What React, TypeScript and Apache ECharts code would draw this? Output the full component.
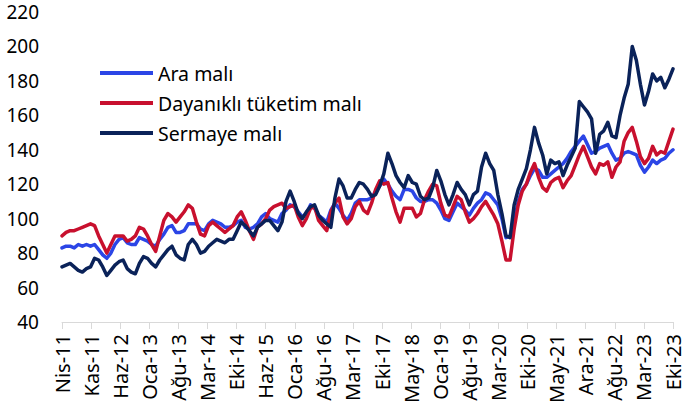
import React, { useEffect, useRef } from "react";
import * as echarts from "echarts";

const tickLabels = [
  "Nis-11", "Kas-11", "Haz-12", "Oca-13", "Ağu-13", "Mar-14", "Eki-14", "Haz-15",
  "Oca-16", "Ağu-16", "Mar-17", "Eki-17", "May-18", "Oca-19", "Ağu-19", "Mar-20",
  "Eki-20", "May-21", "Ara-21", "Ağu-22", "Mar-23", "Eki-23",
];

// Monthly values, Apr 2011 .. Oct 2023 (151 months)
const araMali = [
  83, 84, 84, 83, 85, 84, 85, 84, 85, 82, 79, 77, 80, 85, 88, 89, 86, 85, 85, 89,
  88, 87, 85, 84, 88, 91, 95, 96, 92, 92, 93, 97, 97, 97, 94, 93, 97, 99, 98, 97,
  95, 95, 96, 98, 99, 95, 94, 95, 97, 101, 103, 100, 99, 98, 103, 105, 108, 107, 104, 101,
  103, 108, 106, 102, 100, 98, 105, 109, 106, 102, 99, 103, 109, 111, 111, 111, 112, 116, 119, 123,
  120, 116, 113, 111, 117, 117, 116, 112, 110, 110, 111, 111, 109, 105, 100, 99, 104, 109, 107, 105,
  102, 106, 109, 111, 115, 114, 111, 108, 100, 89, 90, 98, 110, 117, 120, 125, 129, 128, 124, 124,
  126, 128, 130, 132, 135, 139, 142, 145, 148, 143, 138, 139, 141, 142, 143, 138, 134, 135, 138, 139,
  138, 137, 131, 127, 130, 134, 132, 134, 135, 138, 140,
];

const dayanikliTuketim = [
  90, 92, 93, 93, 94, 95, 96, 97, 96, 90, 85, 80, 85, 90, 90, 90, 87, 88, 90, 95,
  94, 90, 85, 81, 90, 99, 103, 101, 98, 101, 104, 108, 106, 98, 91, 90, 96, 98, 96, 94,
  92, 94, 96, 101, 104, 99, 93, 88, 95, 97, 100, 105, 107, 108, 109, 106, 107, 108, 101, 96,
  100, 106, 107, 99, 96, 93, 104, 109, 112, 101, 97, 100, 107, 110, 105, 103, 109, 117, 122, 120,
  121, 112, 104, 98, 106, 106, 106, 101, 103, 111, 116, 120, 119, 109, 102, 101, 107, 113, 111, 104,
  98, 100, 103, 107, 110, 106, 102, 97, 87, 76, 76, 94, 108, 116, 120, 127, 132, 124, 118, 116,
  121, 123, 124, 118, 122, 125, 131, 137, 142, 136, 130, 126, 132, 131, 133, 124, 130, 133, 145, 150,
  153, 145, 136, 132, 135, 142, 137, 139, 138, 145, 152,
];

const sermayeMali = [
  72, 73, 74, 72, 70, 69, 71, 72, 77, 76, 72, 67, 70, 73, 75, 76, 71, 69, 68, 74,
  78, 77, 74, 72, 76, 79, 82, 84, 79, 77, 76, 85, 88, 85, 80, 81, 84, 86, 88, 87,
  86, 88, 88, 93, 98, 96, 93, 90, 95, 97, 99, 99, 96, 93, 98, 110, 116, 110, 103, 100,
  104, 107, 108, 102, 99, 97, 95, 112, 123, 119, 112, 112, 117, 121, 120, 117, 113, 114, 119, 126,
  138, 132, 125, 121, 118, 125, 121, 120, 113, 111, 112, 118, 128, 122, 114, 108, 114, 121, 117, 114,
  108, 114, 116, 130, 138, 132, 128, 114, 103, 90, 89, 108, 117, 123, 129, 140, 153, 144, 137, 126,
  134, 132, 133, 125, 131, 136, 141, 168, 165, 162, 158, 138, 149, 151, 156, 148, 147, 160, 170, 178,
  200, 192, 178, 166, 174, 184, 180, 182, 176, 181, 187,
];

const seriesNames = ["Ara malı", "Dayanıklı tüketim malı", "Sermaye malı"];
const seriesColors = ["#2B45E6", "#C8102E", "#0A2259"];

const FONT = "'Noto Sans', 'Open Sans', sans-serif";
const TICK_COUNT = tickLabels.length - 1; // 21 intervals

function toPoints(values: number[]) {
  const n = values.length - 1;
  return values.map((v, i) => [(i * TICK_COUNT) / n, v]);
}

export default function App() {
  const ref = useRef<HTMLDivElement>(null);

  useEffect(() => {
    if (!ref.current) return;
    const chart = echarts.init(ref.current, undefined, { renderer: "svg" });
    const data = [araMali, dayanikliTuketim, sermayeMali];
    chart.setOption({
      animation: false,
      backgroundColor: "#ffffff",
      grid: { left: 62, right: 10, top: 12, bottom: 93, containLabel: false },
      legend: {
        orient: "vertical",
        left: 100,
        top: 63,
        padding: 0,
        itemGap: 10,
        itemWidth: 53,
        itemHeight: 4,
        icon: "rect",
        data: seriesNames,
        textStyle: { fontFamily: FONT, fontSize: 19.5, color: "#000", lineHeight: 20 },
      },
      xAxis: {
        type: "value",
        min: 0,
        max: TICK_COUNT,
        interval: 1,
        splitLine: { show: false },
        axisLine: { show: true, lineStyle: { color: "#d9d9d9", width: 1 } },
        axisTick: { show: true, length: 7, lineStyle: { color: "#d9d9d9" } },
        axisLabel: {
          rotate: 90,
          margin: 12,
          fontFamily: FONT,
          fontSize: 20,
          lineHeight: 16,
          color: "#000",
          formatter: (v: number) => tickLabels[Math.round(v)] ?? "",
        },
      },
      yAxis: {
        type: "value",
        min: 40,
        max: 220,
        interval: 20,
        splitLine: { show: false },
        axisLine: { show: false },
        axisTick: { show: false },
        axisLabel: { margin: 23, fontFamily: FONT, fontSize: 19, color: "#000" },
      },
      series: seriesNames.map((name, k) => ({
        name,
        type: "line",
        data: toPoints(data[k]),
        symbol: "none",
        showSymbol: false,
        color: seriesColors[k],
        lineStyle: { width: 3.5, color: seriesColors[k], join: "round", cap: "round" },
        z: k === 2 ? 3 : k === 1 ? 2 : 1,
      })),
    });
    return () => chart.dispose();
  }, []);

  return (
    <div
      ref={ref}
      style={{ position: "absolute", left: 0, top: 0, width: 683, height: 415 }}
    />
  );
}
